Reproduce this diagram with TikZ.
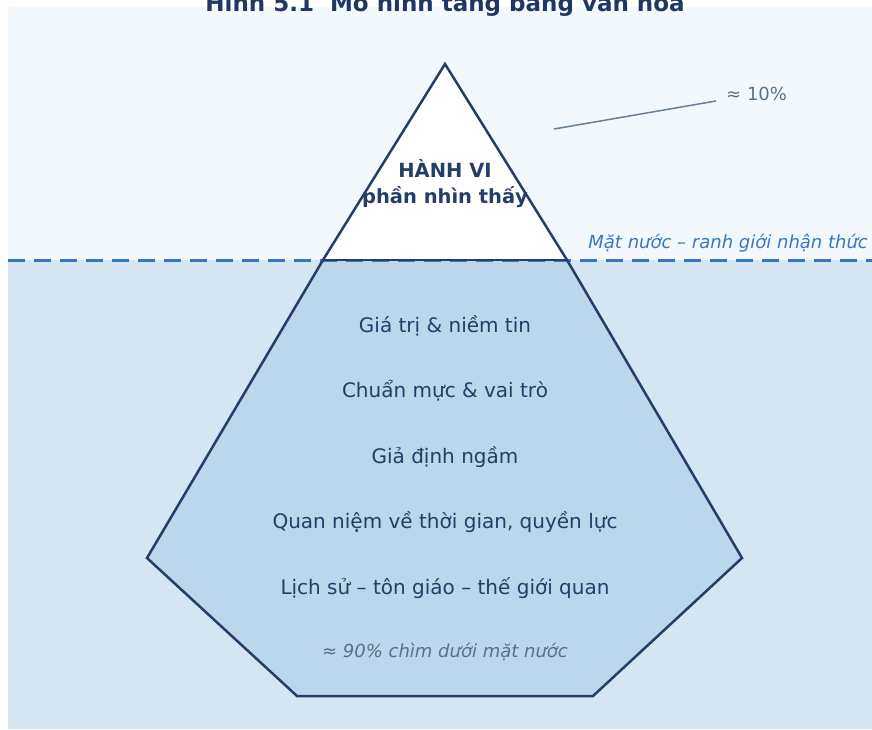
\documentclass[tikz,border=0pt]{standalone}
\usepackage{fontspec}
\setmainfont{DejaVu Sans}
\definecolor{bgtop}{HTML}{F3F8FE}
\definecolor{bgbot}{HTML}{D5E5F2}
\definecolor{berg}{HTML}{BCD6EB}
\definecolor{navy}{HTML}{253E68}
\definecolor{titlec}{HTML}{1F3763}
\definecolor{water}{HTML}{3878BE}
\definecolor{greyc}{HTML}{5B7088}
\definecolor{leadc}{HTML}{6A7F95}
\begin{document}
\begin{tikzpicture}[x=1pt,y=-1pt,
  layertext/.style={anchor=base,text=navy,font=\fontsize{20}{24}\selectfont,inner sep=0pt},
  toptext/.style={anchor=base,text=navy,font=\bfseries\fontsize{19.5}{23}\selectfont,inner sep=0pt},
  notetext/.style={text=greyc,font=\fontsize{18}{22}\selectfont,inner sep=0pt},
  bergline/.style={draw=navy,line width=2.5pt,line join=miter}]
\useasboundingbox (0,0) rectangle (872,729);
\fill[bgtop] (8,7) rectangle (872,260);
\fill[bgbot] (8,260) rectangle (872,729);
% title (cut off at top)
\node[anchor=base,text=titlec,font=\bfseries\fontsize{23}{27}\selectfont,inner sep=0pt] (title) at (445,11) {Hình 5.1\ \ Mô hình tảng băng văn hóa};
% iceberg
\coordinate (apex) at (445,64);
\coordinate (wl) at (323,260);
\coordinate (wr) at (567,260);
\coordinate (ll) at (147,558);
\coordinate (lr) at (742,558);
\coordinate (bl) at (297,696);
\coordinate (br) at (593,696);
\fill[berg] (wl) -- (ll) -- (bl) -- (br) -- (lr) -- (wr) -- cycle;
\fill[white] (apex) -- (wl) -- (wr) -- cycle;
% water line
\coordinate (wstart) at (8,260);
\coordinate (wend) at (872,260);
\draw[water,line width=3pt,dash pattern=on 17pt off 9pt] (wstart) -- (wend);
\draw[bergline] (wl) -- (ll) -- (bl) -- (br) -- (lr) -- (wr);
\draw[bergline] (wl) -- (apex) -- (wr);
\draw[navy,line width=2.5pt] (wl) -- (wr);
% labels
\node[toptext] (hv) at (445,177) {HÀNH VI};
\node[toptext] (pn) at (445,203) {phần nhìn thấy};
\node[anchor=base east,text=water,font=\itshape\fontsize{18}{22}\selectfont,inner sep=0pt] (wlabel) at (868,248.5) {Mặt nước – ranh giới nhận thức};
\node[notetext,anchor=base west] (ten) at (726,100.5) {≈ 10\%};
\coordinate (leadA) at (554,129);
\coordinate (leadB) at (716,101);
\draw[leadc,line width=1.5pt] (leadA) -- (leadB);
\node[layertext] (l1) at (445,332) {Giá trị \& niềm tin};
\node[layertext] (l2) at (445,397) {Chuẩn mực \& vai trò};
\node[layertext] (l3) at (445,463) {Giả định ngầm};
\node[layertext] (l4) at (445,528) {Quan niệm về thời gian, quyền lực};
\node[layertext] (l5) at (445,594) {Lịch sử – tôn giáo – thế giới quan};
\node[notetext,anchor=base,font=\itshape\fontsize{18}{22}\selectfont] (ninety) at (445,657.5) {≈ 90\% chìm dưới mặt nước};
\end{tikzpicture}
\end{document}
